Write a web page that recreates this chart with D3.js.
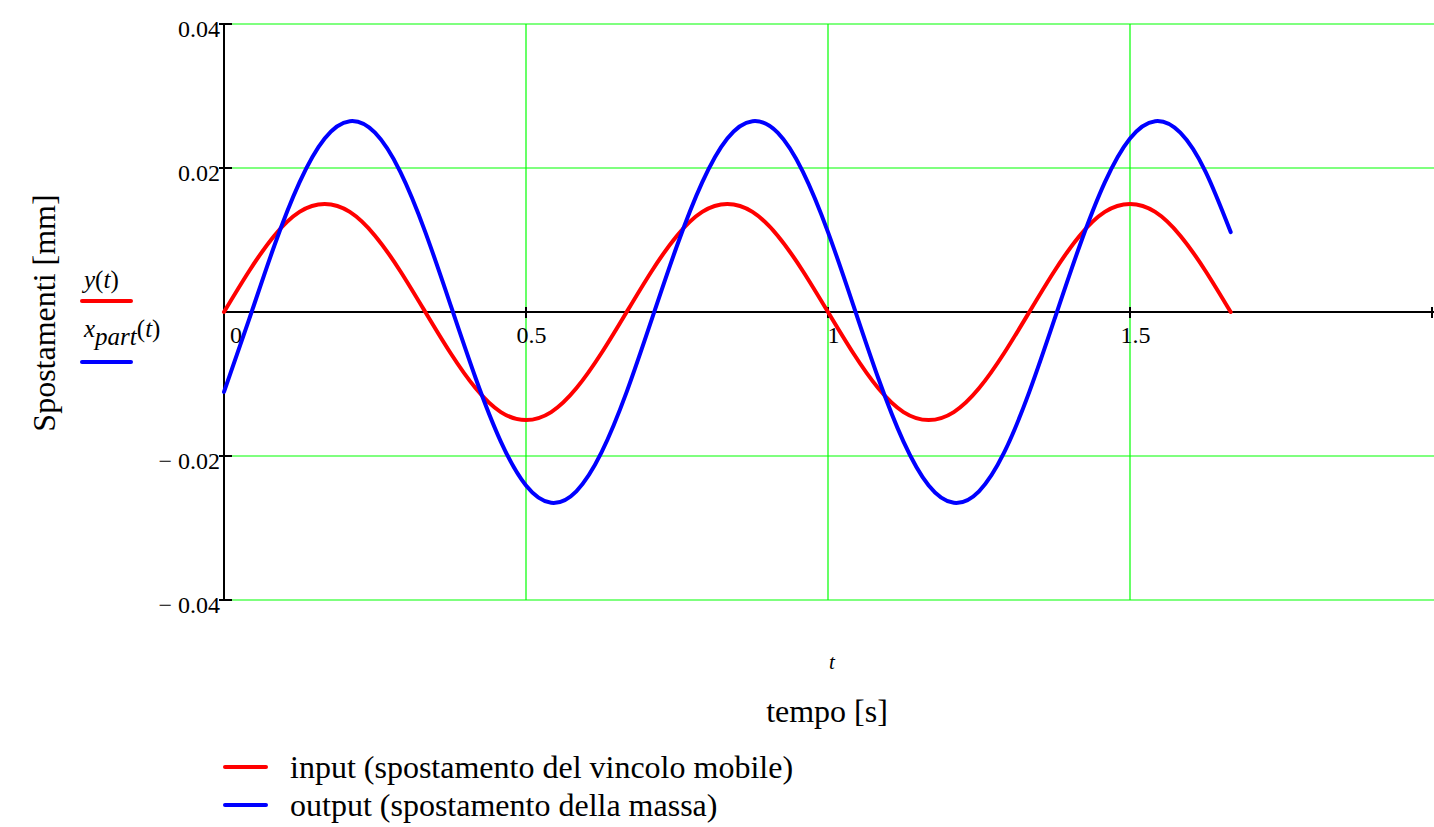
<!DOCTYPE html>
<html><head><meta charset="utf-8">
<script src="https://cdn.jsdelivr.net/npm/d3@7"></script>
<style>body{margin:0;background:#fff}svg{display:block}text{font-family:"Liberation Serif","DejaVu Serif",serif;fill:#000}</style>
</head><body>
<svg id="c" width="1434" height="827"></svg>
<script>
// time samples [s]
const times = [0,0.0417,0.0833,0.125,0.1667,0.2083,0.25,0.2917,0.3333,0.375,0.4167,0.4583,0.5,0.5417,0.5833,0.625,0.6667,0.7083,0.75,0.7917,0.8333,0.875,0.9167,0.9583,1.0,1.0417,1.0833,1.125,1.1667,1.2083,1.25,1.2917,1.3333,1.375,1.4167,1.4583,1.5,1.5417,1.5833,1.625,1.6667];
// input y(t) [mm]
const inputY = [0,0.0057,0.0106,0.0139,0.015,0.0139,0.0106,0.0057,0,-0.0057,-0.0106,-0.0139,-0.015,-0.0139,-0.0106,-0.0057,0,0.0057,0.0106,0.0139,0.015,0.0139,0.0106,0.0057,0,-0.0057,-0.0106,-0.0139,-0.015,-0.0139,-0.0106,-0.0057,0,0.0057,0.0106,0.0139,0.015,0.0139,0.0106,0.0057,0];
// output x_part(t) [mm]
const outputX = [-0.0111,-0.0010,0.0092,0.0180,0.0241,0.0265,0.0249,0.0195,0.0111,0.0010,-0.0092,-0.0180,-0.0241,-0.0265,-0.0249,-0.0195,-0.0111,-0.0010,0.0092,0.0180,0.0241,0.0265,0.0249,0.0195,0.0111,0.0010,-0.0092,-0.0180,-0.0241,-0.0265,-0.0249,-0.0195,-0.0111,-0.0010,0.0092,0.0180,0.0241,0.0265,0.0249,0.0195,0.0111];
const xTicks = [0,0.5,1,1.5];
const xTickLabels = ["0","0.5","1","1.5"];
const yTicks = [0.04,0.02,-0.02,-0.04];
const yTickLabels = ["0.04","0.02","\u2212 0.02","\u2212 0.04"];
const legendLabels = ["input (spostamento del vincolo mobile)","output (spostamento della massa)"];
const colors = ["#ff0000","#0000ff"];

const svg = d3.select("#c");
const x = d3.scaleLinear().domain([0,2]).range([224,1432]);
const y = d3.scaleLinear().domain([-0.04,0.04]).range([600,24]);

// grid
const g = svg.append("g").attr("stroke","#00ff00").attr("stroke-width",1.2);
[0.5,1,1.5].forEach(v=>g.append("line").attr("x1",x(v)).attr("x2",x(v)).attr("y1",y(0.04)).attr("y2",y(-0.04)));
yTicks.forEach(v=>g.append("line").attr("x1",x(0)).attr("x2",1434).attr("y1",y(v)).attr("y2",y(v)));

// axes
const ax = svg.append("g").attr("stroke","#000").attr("stroke-width",2);
ax.append("line").attr("x1",x(0)).attr("x2",x(0)).attr("y1",y(0.04)).attr("y2",y(-0.04));
ax.append("line").attr("x1",x(0)).attr("x2",1434).attr("y1",y(0)).attr("y2",y(0));
yTicks.forEach(v=>ax.append("line").attr("x1",x(0)-5).attr("x2",x(0)+8).attr("y1",y(v)).attr("y2",y(v)));
xTicks.concat([2]).forEach(v=>ax.append("line").attr("x1",Math.min(x(v),1432)).attr("x2",Math.min(x(v),1432)).attr("y1",y(0)-5).attr("y2",y(0)+6));

// tick labels
yTicks.forEach((v,i)=>svg.append("text").attr("x",x(0)-4).attr("y",y(v)+13).attr("text-anchor","end").attr("font-size",24).text(yTickLabels[i]));
xTicks.forEach((v,i)=>svg.append("text").attr("x",x(v)+(v===0?12:5.5)).attr("y",y(0)+31).attr("text-anchor","middle").attr("font-size",24).text(xTickLabels[i]));

// curves
const line = d3.line().x(d=>x(d[0])).y(d=>y(d[1])).curve(d3.curveNatural);
[inputY,outputX].forEach((s,i)=>{
  svg.append("path").datum(times.map((t,k)=>[t,s[k]])).attr("d",line)
    .attr("fill","none").attr("stroke",colors[i]).attr("stroke-width",4).attr("stroke-linecap","round");
});

// left legend (trace names)
const t1 = svg.append("text").attr("x",84).attr("y",288).attr("font-size",25).attr("font-style","italic");
t1.append("tspan").text("y");
t1.append("tspan").attr("font-style","normal").text("(");
t1.append("tspan").text("t");
t1.append("tspan").attr("font-style","normal").text(")");
svg.append("line").attr("x1",82).attr("x2",131).attr("y1",301).attr("y2",301).attr("stroke",colors[0]).attr("stroke-width",4).attr("stroke-linecap","round");
const t2 = svg.append("text").attr("x",84).attr("y",337).attr("font-size",25).attr("font-style","italic");
t2.append("tspan").text("x");
t2.append("tspan").attr("dy",8).text("part");
t2.append("tspan").attr("dy",-8).attr("font-style","normal").text("(");
t2.append("tspan").text("t");
t2.append("tspan").attr("font-style","normal").text(")");
svg.append("line").attr("x1",82).attr("x2",131).attr("y1",362).attr("y2",362).attr("stroke",colors[1]).attr("stroke-width",4).attr("stroke-linecap","round");

// y axis title
svg.append("text").attr("transform","translate(55,313) rotate(-90)").attr("text-anchor","middle").attr("font-size",32).text("Spostamenti [mm]");

// x axis
svg.append("text").attr("x",832).attr("y",669).attr("text-anchor","middle").attr("font-size",21).attr("font-style","italic").text("t");
svg.append("text").attr("x",827).attr("y",722).attr("text-anchor","middle").attr("font-size",32).text("tempo [s]");

// bottom legend
legendLabels.forEach((l,i)=>{
  const yy = 767 + i*38;
  svg.append("line").attr("x1",225).attr("x2",266).attr("y1",yy).attr("y2",yy).attr("stroke",colors[i]).attr("stroke-width",4).attr("stroke-linecap","round");
  svg.append("text").attr("x",290).attr("y",yy+11).attr("font-size",32).text(l);
});
</script>
</body></html>
